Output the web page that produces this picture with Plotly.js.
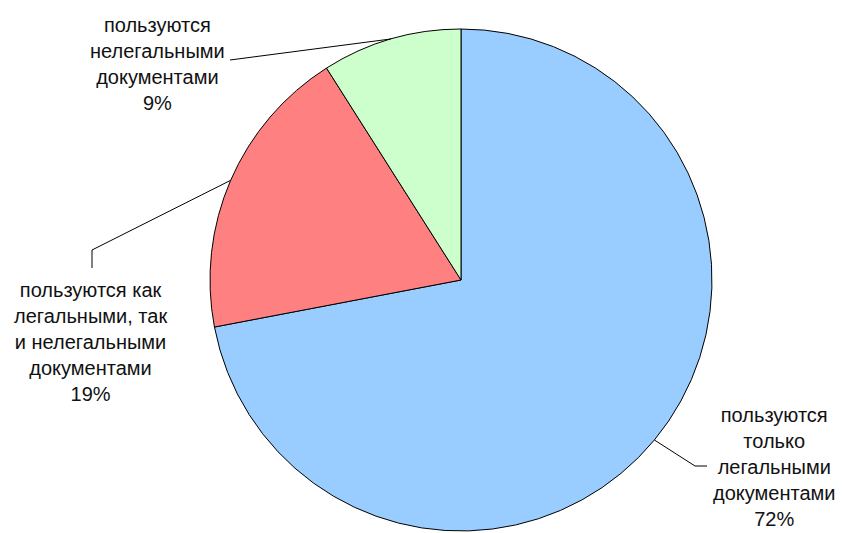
<!DOCTYPE html>
<html>
<head>
<meta charset="utf-8">
<script src="https://cdn.plot.ly/plotly-3.0.1.min.js"></script>
<style>html,body{margin:0;padding:0;background:#fff;}#chart{width:842px;height:533px;}</style>
</head>
<body>
<div id="chart"></div>
<script>
// ---- data ----
var categories = [
  "пользуются<br>только<br>легальными<br>документами",
  "пользуются как<br>легальными, так<br>и нелегальными<br>документами",
  "пользуются<br>нелегальными<br>документами"
];
var values = [72, 19, 9];
var colors = ["#99CCFF", "#FF8080", "#CCFFCC"];

// ---- layout constants (pixels) ----
var W = 842, H = 533;
var cx = 461, cy = 280, R = 251;
// label block centres and leader-line knee/end points
var labelPos = [[774, 467], [90, 342], [157, 64]];
var leaderPts = [[[695, 466], [707, 466]], [[92, 250], [92, 268]], [[230, 60]]];

function px(x) { return x / W; }
function py(y) { return 1 - y / H; }

var total = values.reduce(function (a, b) { return a + b; }, 0);
var shapes = [], annotations = [];
var acc = 0;
for (var i = 0; i < values.length; i++) {
  var mid = (acc + values[i] / 2) / total * 2 * Math.PI; // clockwise from top
  acc += values[i];
  var ex = cx + R * Math.sin(mid), ey = cy - R * Math.cos(mid);
  var path = "M " + px(ex) + "," + py(ey);
  leaderPts[i].forEach(function (p) { path += " L " + px(p[0]) + "," + py(p[1]); });
  shapes.push({type: "path", xref: "paper", yref: "paper", path: path,
    line: {color: "#000", width: 1}});
  var pct = Math.round(values[i] / total * 100) + "%";
  annotations.push({xref: "paper", yref: "paper", x: px(labelPos[i][0]), y: py(labelPos[i][1]),
    xanchor: "center", yanchor: "middle", align: "center", showarrow: false,
    text: categories[i] + "<br>" + pct,
    font: {family: "Liberation Sans, Arial, sans-serif", size: 20, color: "#111"}});
}

var trace = {
  type: "pie",
  values: values,
  labels: categories,
  marker: {colors: colors, line: {color: "#000", width: 1}},
  sort: false,
  direction: "clockwise",
  rotation: 0,
  textinfo: "none",
  hoverinfo: "none",
  showlegend: false,
  domain: {x: [px(cx - R), px(cx + R)], y: [py(cy + R), py(cy - R)]}
};

Plotly.newPlot("chart", [trace], {
  width: W, height: H,
  margin: {l: 0, r: 0, t: 0, b: 0},
  paper_bgcolor: "#fff",
  showlegend: false,
  shapes: shapes,
  annotations: annotations
}, {staticPlot: true});
</script>
</body>
</html>
